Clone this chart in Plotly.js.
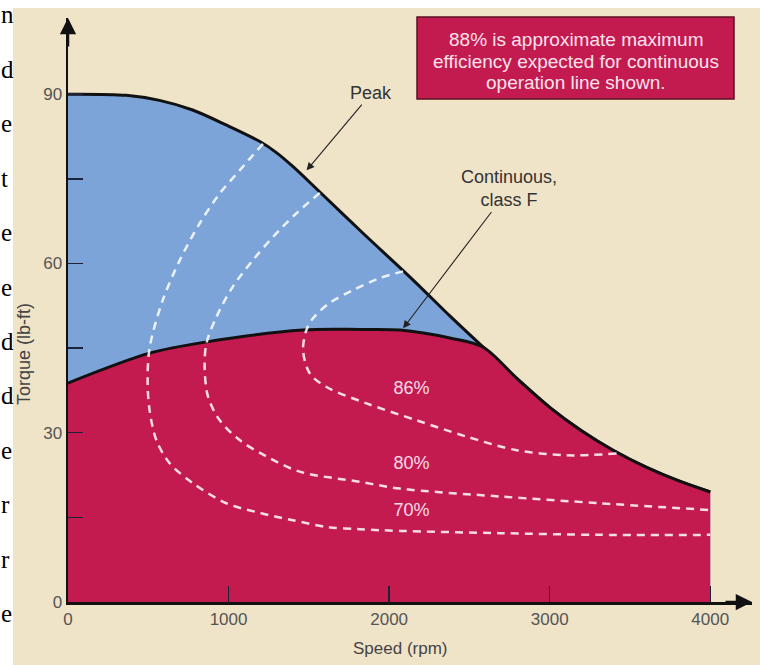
<!DOCTYPE html>
<html>
<head>
<meta charset="utf-8">
<script src="https://cdn.plot.ly/plotly-3.0.1.min.js"></script>
<style>
  html, body { margin: 0; padding: 0; background: #ffffff; }
  #chart { width: 760px; height: 665px; }
</style>
</head>
<body>
<div id="chart"></div>
<script>
// ---- data ----
const peakRpm    = [0, 363, 570, 776, 988, 1195, 1300, 1400, 1549, 1836, 2148, 2378, 2584, 2800, 3000, 3200, 3400, 3600, 3800, 4000];
const peakTorque = [90, 89.8, 88.9, 87.2, 84.5, 81.6, 79.6, 77.2, 73.2, 65.4, 57.1, 50.7, 45.2, 39.5, 34.5, 30.3, 26.8, 23.9, 21.5, 19.5];

const contRpm    = [0, 508, 863, 1462, 1817, 2067, 2378, 2584];
const contTorque = [38.8, 44.1, 46.1, 48.2, 48.3, 48.2, 46.8, 45.2];

const eff70Rpm    = [1214, 1069, 945, 820, 695, 589, 508, 496, 508, 550, 633, 776, 986, 1194, 1400, 1610, 1817, 2067, 2690, 3314, 4000];
const eff70Torque = [81.2, 76.5, 72.4, 67.1, 60.5, 53.4, 45.0, 38.8, 34.0, 28.7, 24.6, 21.1, 17.5, 15.8, 14.5, 13.3, 12.9, 12.6, 12.2, 11.9, 11.9];

const eff80Rpm    = [1568, 1423, 1277, 1152, 1027, 924, 862, 851, 872, 945, 1069, 1236, 1443, 1817, 2067, 2690, 3314, 4000];
const eff80Torque = [72.5, 68.9, 64.7, 60.6, 55.9, 50.5, 45.8, 41.7, 36.4, 32.2, 28.7, 25.8, 23.1, 21.3, 20.1, 18.7, 17.5, 16.3];

const eff86Rpm    = [2087, 1942, 1776, 1630, 1526, 1485, 1464, 1506, 1610, 1859, 2171, 2483, 2794, 3106, 3418];
const eff86Torque = [58.6, 57.4, 55.3, 53.0, 50.3, 48.2, 44.6, 40.5, 38.1, 35.2, 32.2, 29.3, 26.9, 26.0, 26.3];

const effLabels      = ['86%', '80%', '70%'];
const effLabelRpm    = [2140, 2140, 2140];
const effLabelTorque = [37.6, 24.3, 16.0];

const xTickVals = [0, 1000, 2000, 3000, 4000];
const xTickText = ['0', '1000', '2000', '3000', '4000'];
const yTickVals = [0, 15, 30, 45, 60, 75, 90];
const yTickText = ['0', '', '30', '', '60', '', '90'];

const xTitle = 'Speed (rpm)';
const yTitle = 'Torque (lb-ft)';
const noteLines = ['88% is approximate maximum', 'efficiency expected for continuous', 'operation line shown.'];
const sideLetters = ['n', 'd', 'e', 't', 'e', 'e', 'd', 'd', 'e', 'r', 'r', 'e'];

// ---- derived boundary of the continuous (red) region ----
const junction = contRpm[contRpm.length - 1];
const redRpm = contRpm.concat(peakRpm.filter(v => v > junction));
const redTorque = contTorque.concat(peakTorque.filter((v, i) => peakRpm[i] > junction));

// ---- geometry helpers (pixel -> paper) ----
const L = 68, R = 8, T = 18, B = 63, W = 760, H = 665;
const PW = W - L - R, PH = H - T - B;
const px = v => (v - L) / PW;
const py = v => (H - B - v) / PH;

const SANS = 'Liberation Sans, Arial, Helvetica, sans-serif';
const BLUE = '#7CA4D9';
const RED = '#C31A50';
const BEIGE = '#EFE3C8';
const DASH = 'rgba(255,255,255,0.85)';

const traces = [
  { x: peakRpm, y: peakTorque, mode: 'lines', fill: 'tozeroy', fillcolor: BLUE,
    line: { color: '#111', width: 3, shape: 'spline', smoothing: 0.9 }, hoverinfo: 'skip' },
  { x: redRpm, y: redTorque, mode: 'lines', fill: 'tozeroy', fillcolor: RED,
    line: { color: '#111', width: 3, shape: 'spline', smoothing: 0.9 }, hoverinfo: 'skip' },
  { x: eff70Rpm, y: eff70Torque, mode: 'lines',
    line: { color: DASH, width: 2.5, dash: '8px,6px', shape: 'spline', smoothing: 0.9 }, hoverinfo: 'skip' },
  { x: eff80Rpm, y: eff80Torque, mode: 'lines',
    line: { color: DASH, width: 2.5, dash: '8px,6px', shape: 'spline', smoothing: 0.9 }, hoverinfo: 'skip' },
  { x: eff86Rpm, y: eff86Torque, mode: 'lines',
    line: { color: DASH, width: 2.5, dash: '8px,6px', shape: 'spline', smoothing: 0.9 }, hoverinfo: 'skip' },
  { x: effLabelRpm, y: effLabelTorque, mode: 'text', text: effLabels,
    textfont: { family: SANS, size: 18, color: '#F8DDE6' }, textposition: 'middle center', hoverinfo: 'skip' }
];

const annotations = [];
// axis arrowheads (anchored at the ends of the axis ranges)
annotations.push({ x: 4260, y: 0, xref: 'x', yref: 'y', text: '', showarrow: true,
  ax: -28, ay: 0, arrowhead: 2, arrowsize: 1.3, arrowwidth: 2.5, arrowcolor: '#111' });
annotations.push({ x: 0, y: 103.5, xref: 'x', yref: 'y', text: '', showarrow: true,
  ax: 0, ay: 30, arrowhead: 2, arrowsize: 1.3, arrowwidth: 2.5, arrowcolor: '#111' });
// axis titles
annotations.push({ x: px(400), y: py(648), xref: 'paper', yref: 'paper', text: xTitle, showarrow: false,
  xanchor: 'center', yanchor: 'middle', font: { family: SANS, size: 17, color: '#444' } });
annotations.push({ x: px(24), y: py(354), xref: 'paper', yref: 'paper', text: yTitle, showarrow: false,
  textangle: -90, xanchor: 'center', yanchor: 'middle', font: { family: SANS, size: 18, color: '#444' } });
// callouts
annotations.push({ x: 1486, y: 76.5, xref: 'x', yref: 'y', text: 'Peak', showarrow: true,
  axref: 'x', ayref: 'y', ax: 1890, ay: 90.2, arrowhead: 2, arrowsize: 1.4, arrowwidth: 1.1,
  arrowcolor: '#222', font: { family: SANS, size: 18, color: '#333' } });
annotations.push({ x: 2087, y: 48.5, xref: 'x', yref: 'y', text: 'Continuous,<br>class F', showarrow: true,
  axref: 'x', ayref: 'y', ax: 2746, ay: 73.2, arrowhead: 2, arrowsize: 1.4, arrowwidth: 1.1,
  arrowcolor: '#222', font: { family: SANS, size: 18, color: '#333' } });
// note box text
const noteY = [39.5, 61.5, 82.5];
noteLines.forEach((t, i) => annotations.push({
  x: px(576), y: py(noteY[i]), xref: 'paper', yref: 'paper', text: t, showarrow: false,
  xanchor: 'center', yanchor: 'middle', font: { family: SANS, size: 19, color: '#FBE3EC' } }));
// cropped letters from the page on the left
sideLetters.forEach((t, i) => annotations.push({
  x: px(-1), y: py(15 + i * 54.4), xref: 'paper', yref: 'paper', text: t, showarrow: false,
  xanchor: 'left', yanchor: 'middle', font: { family: 'Liberation Serif, Times New Roman, serif', size: 25, color: '#000' } }));

const shapes = [
  // white page strips outside the figure
  { type: 'rect', xref: 'paper', yref: 'paper', x0: px(0), x1: px(13), y0: py(H), y1: py(0),
    fillcolor: '#ffffff', line: { width: 0 }, layer: 'below' },
  { type: 'rect', xref: 'paper', yref: 'paper', x0: px(0), x1: px(W), y0: py(8), y1: py(0),
    fillcolor: '#ffffff', line: { width: 0 }, layer: 'below' },
  // note box
  { type: 'rect', xref: 'paper', yref: 'paper', x0: px(417), x1: px(734), y0: py(99), y1: py(17),
    fillcolor: RED, line: { color: '#5A1222', width: 1.5 }, layer: 'above' }
];

const layout = {
  width: W, height: H,
  margin: { l: L, r: R, t: T, b: B, pad: 0 },
  paper_bgcolor: BEIGE,
  plot_bgcolor: 'rgba(0,0,0,0)',
  showlegend: false,
  font: { family: SANS, color: '#555' },
  xaxis: {
    range: [0, 4260], showgrid: false, zeroline: false,
    showline: true, linecolor: '#111', linewidth: 3,
    tickvals: xTickVals, ticktext: xTickText, ticks: 'inside', ticklen: 16, tickwidth: 1.5, tickcolor: '#1d2238',
    tickfont: { family: SANS, size: 17, color: '#555' }
  },
  yaxis: {
    range: [0, 103.5], showgrid: false, zeroline: false,
    showline: true, linecolor: '#111', linewidth: 2.5,
    tickvals: yTickVals, ticktext: yTickText, ticks: 'inside', ticklen: 15, tickwidth: 1.5, tickcolor: '#1d2238',
    tickfont: { family: SANS, size: 17, color: '#555' }
  },
  annotations: annotations,
  shapes: shapes
};

Plotly.newPlot('chart', traces, layout, { displayModeBar: false, staticPlot: true });
</script>
</body>
</html>
